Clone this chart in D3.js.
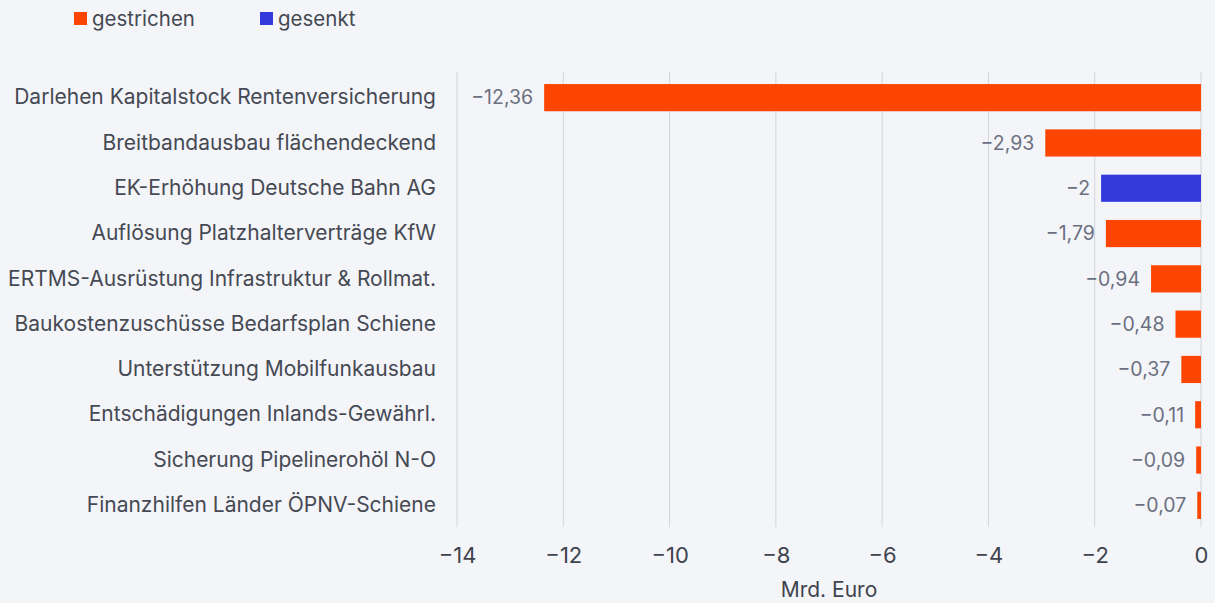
<!DOCTYPE html>
<html>
<head>
<meta charset="utf-8">
<script src="https://cdn.jsdelivr.net/npm/d3@7"></script>
<style>
  html, body { margin: 0; padding: 0; background: #f4f5f9; }
  body { font-family: Inter, "Noto Sans", sans-serif; }
</style>
</head>
<body>
<div id="chart"></div>
<script>
const categories = [
  "Darlehen Kapitalstock Rentenversicherung",
  "Breitbandausbau flächendeckend",
  "EK-Erhöhung Deutsche Bahn AG",
  "Auflösung Platzhalterverträge KfW",
  "ERTMS-Ausrüstung Infrastruktur & Rollmat.",
  "Baukostenzuschüsse Bedarfsplan Schiene",
  "Unterstützung Mobilfunkausbau",
  "Entschädigungen Inlands-Gewährl.",
  "Sicherung Pipelinerohöl N-O",
  "Finanzhilfen Länder ÖPNV-Schiene"
];
const values = [-12.36, -2.93, -1.88, -1.79, -0.94, -0.48, -0.37, -0.11, -0.09, -0.07];
const valueLabels = ["−12,36", "−2,93", "−2", "−1,79", "−0,94", "−0,48", "−0,37", "−0,11", "−0,09", "−0,07"];
const kinds = ["gestrichen", "gestrichen", "gesenkt", "gestrichen", "gestrichen", "gestrichen", "gestrichen", "gestrichen", "gestrichen", "gestrichen"];
const legendItems = ["gestrichen", "gesenkt"];
const xTicks = [-14, -12, -10, -8, -6, -4, -2, 0];

const width = 1215, height = 603;
const margin = { top: 72, right: 14, bottom: 76, left: 457 };

const color = d3.scaleOrdinal()
  .domain(legendItems)
  .range(["#fc4500", "#3339db"]);

const svg = d3.select("#chart").append("svg")
  .attr("width", width)
  .attr("height", height);

const x = d3.scaleLinear()
  .domain([-14, 0])
  .range([margin.left, width - margin.right]);

const y = d3.scaleBand()
  .domain(categories)
  .range([75, 528])
  .paddingInner(0.4)
  .paddingOuter(0.2);

// gridlines
svg.append("g")
  .selectAll("line")
  .data(xTicks)
  .join("line")
  .attr("x1", d => x(d)).attr("x2", d => x(d))
  .attr("y1", margin.top).attr("y2", height - margin.bottom)
  .attr("stroke", "#d3d5dc")
  .attr("stroke-width", 1);

// x axis
const xAxis = svg.append("g")
  .attr("transform", `translate(0,${height - margin.bottom})`)
  .call(d3.axisBottom(x).tickValues(xTicks).tickSize(0).tickPadding(20)
    .tickFormat(d => d < 0 ? "−" + Math.abs(d) : d));
xAxis.select(".domain").remove();
xAxis.selectAll("text")
  .attr("fill", "#3f434d")
  .style("font-family", "Inter, sans-serif")
  .style("font-size", "22px");

svg.append("text")
  .attr("x", x(-7))
  .attr("y", 597)
  .attr("text-anchor", "middle")
  .attr("fill", "#3f434d")
  .style("font-size", "21px")
  .text("Mrd. Euro");

// y axis labels
const yAxis = svg.append("g")
  .attr("transform", `translate(${margin.left - 21},0)`)
  .call(d3.axisLeft(y).tickSize(0).tickPadding(0));
yAxis.select(".domain").remove();
yAxis.selectAll("text")
  .attr("fill", "#454953")
  .style("font-family", "Inter, sans-serif")
  .style("font-size", "21px");

// bars
svg.append("g")
  .selectAll("rect")
  .data(values)
  .join("rect")
  .attr("x", d => x(d))
  .attr("y", (d, i) => y(categories[i]))
  .attr("width", d => x(0) - x(d))
  .attr("height", y.bandwidth())
  .attr("fill", (d, i) => color(kinds[i]));

// value labels
svg.append("g")
  .selectAll("text")
  .data(values)
  .join("text")
  .attr("x", d => x(d) - 11)
  .attr("y", (d, i) => y(categories[i]) + y.bandwidth() / 2)
  .attr("dy", "0.35em")
  .attr("text-anchor", "end")
  .attr("fill", "#6b7080")
  .style("font-size", "19.5px")
  .text((d, i) => valueLabels[i]);

// legend
const legend = svg.append("g");
const legendX = [74, 260];
legendItems.forEach((k, i) => {
  legend.append("rect")
    .attr("x", legendX[i]).attr("y", 12)
    .attr("width", 13).attr("height", 13)
    .attr("fill", color(k));
  legend.append("text")
    .attr("x", legendX[i] + 18).attr("y", 18.5)
    .attr("dy", "0.35em")
    .attr("fill", "#454953")
    .style("font-size", "20.5px")
    .text(k);
});
</script>
</body>
</html>
